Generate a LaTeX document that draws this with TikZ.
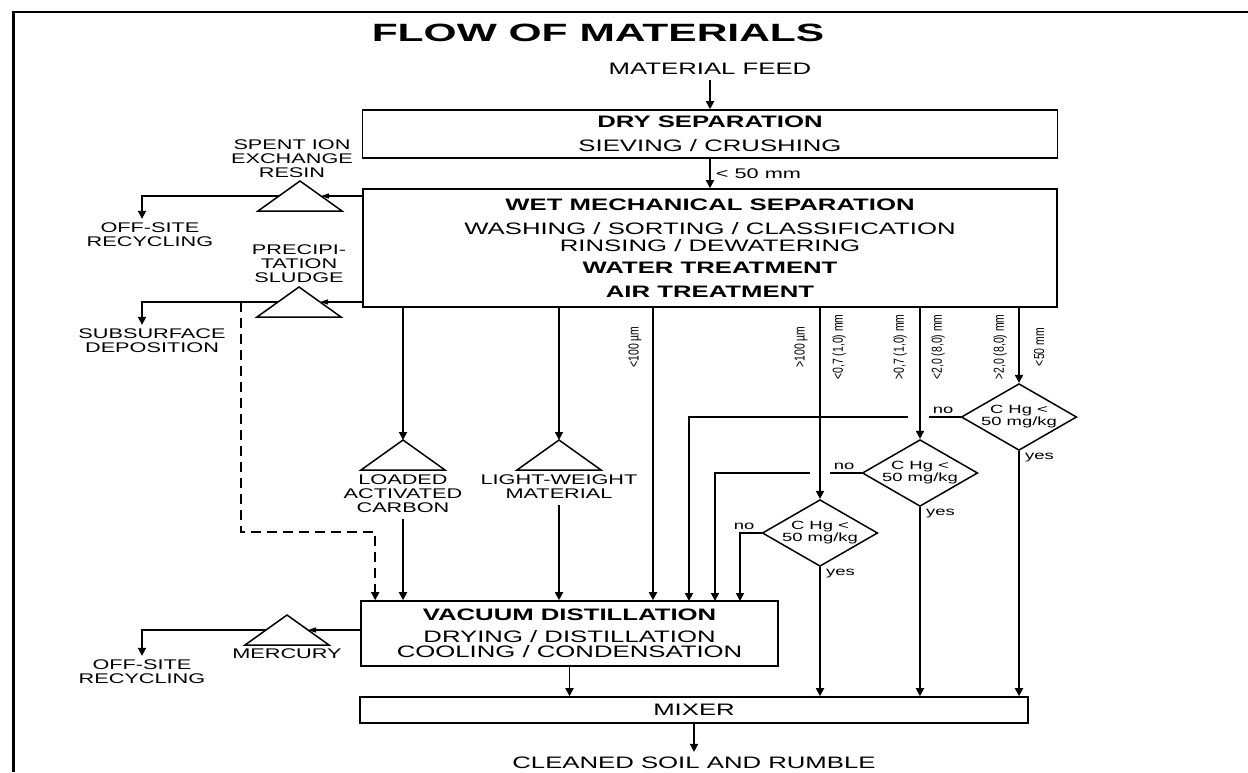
\documentclass[tikz,border=0pt]{standalone}
\usepackage{fontspec}
\setmainfont{Liberation Sans}[FakeStretch=1.55]
\newfontfamily\titlefont{Liberation Sans}[FakeStretch=1.7]
\newfontfamily\slimfont{Liberation Sans}[FakeStretch=0.72]
\usetikzlibrary{positioning, arrows.meta, calc, shapes.geometric}

\begin{document}
\begin{tikzpicture}[
    x=1pt, y=-1pt,
    font=\fontsize{16.6}{17}\selectfont,
    box/.style={draw, line width=1.6pt, align=center, inner sep=0pt},
    side/.style={font=\fontsize{14}{14}\selectfont, align=center, inner sep=0pt},
    small/.style={font=\fontsize{11.9}{11}\selectfont, inner sep=0pt},
    size/.style={font=\slimfont\fontsize{14.5}{14}\selectfont, rotate=90, inner sep=0pt},
    test/.style={draw, diamond, line width=1.5pt, aspect=1.73, inner sep=0pt,
                 minimum width=114pt, minimum height=66pt, align=center,
                 font=\fontsize{11.9}{11}\selectfont},
    tri/.style={line width=1.5pt, line join=miter},
    arr/.style={-{Triangle[length=8pt, width=8pt]}, line width=1.8pt},
    arrs/.style={-{Triangle[length=8pt, width=5pt]}, line width=1.5pt},
  ]
  \useasboundingbox (0,0) rectangle (1248,772);
  \draw[line width=3pt] (13,772) -- (13,12);
  \draw[line width=1.8pt] (12,12) -- (1248,12);

  \node[font=\titlefont\bfseries\fontsize{25}{26}\selectfont] (title) at (598,33) {FLOW OF MATERIALS};
  \node[inner sep=5pt] (feed) at (710,69) {MATERIAL FEED};
  \node[box, minimum width=695pt, minimum height=48pt] (dry) at (710,134)
    {\textbf{DRY SEPARATION}\\[7pt]SIEVING / CRUSHING};
  \node[box, minimum width=694pt, minimum height=118pt] (wet) at (710,248)
    {\textbf{WET MECHANICAL SEPARATION}\\[7pt]WASHING / SORTING / CLASSIFICATION\\RINSING / DEWATERING\\[5pt]\textbf{WATER TREATMENT}\\[7pt]\textbf{AIR TREATMENT}};
  \node[box, minimum width=417pt, minimum height=65pt] (vac) at (569.5,633.5)
    {\textbf{VACUUM DISTILLATION}\\[5pt]DRYING / DISTILLATION\\[-2pt]COOLING / CONDENSATION};
  \node[box, minimum width=668pt, minimum height=26pt] (mix) at (694,710) {MIXER};
  \node[inner sep=5pt] (clean) at (694,763) {CLEANED SOIL AND RUMBLE};

  \draw[arr] (feed) -- (dry);
  \draw[arr] (dry) -- node[side, right=5pt] (cut) {< 50 mm} (wet);

  \foreach \t/\x/\y in {spent/300/181, precip/299/287, loaded/403/440, light/559/440, merc/287/615}{
    \coordinate (\t) at (\x,\y);
    \coordinate (\t-l) at (\x-21,\y+15);
    \coordinate (\t-r) at (\x+21,\y+15);
    \coordinate (\t-b) at (\x,\y+30);
    \draw[tri] (\t) -- ++(-42,30) -- ++(84,0) -- cycle;
  }
  \node[side, above=3pt of spent, xshift=-8pt] (resin) {SPENT ION\\EXCHANGE\\RESIN};
  \node[side, above=4pt of precip] (sludge) {PRECIPI-\\TATION\\SLUDGE};
  \node[side, below=5pt of loaded-b] (carbon) {LOADED\\ACTIVATED\\CARBON};
  \node[side, below=5pt of light-b] (lwm) {LIGHT-WEIGHT\\MATERIAL};
  \node[side, below=4pt of merc-b] (hg) {MERCURY};
  \node[side, inner sep=4pt] (off1) at (150,235) {OFF-SITE\\RECYCLING};
  \node[side, inner sep=4pt] (subs) at (152,341) {SUBSURFACE\\DEPOSITION};
  \node[side, inner sep=4pt] (off2) at (142,672) {OFF-SITE\\RECYCLING};

  \draw[arrs] (wet.west |- spent-r) -- (spent-r);
  \draw[arr] (spent-l) -| ([xshift=-8pt]off1.north);
  \draw[arrs] (wet.west |- precip-r) -- (precip-r);
  \draw[arr] (precip-l) -| ([xshift=-10pt]subs.north);
  \draw[arrs] (vac.west |- merc-r) -- (merc-r);
  \draw[arr] (merc-l) -| (off2.north);

  \coordinate (split) at (241,302);
  \coordinate (bend) at (241,532);
  \draw[arr, dash pattern=on 10pt off 6pt] (split) -- (bend) -| ([xshift=15pt]vac.north west);

  \foreach \n/\x in {o1/403, o2/559, o3/653, o4/820, o5/920, o6/1019}
    \coordinate (\n) at (\x,307);
  \foreach \n/\x in {i4/689, i5/715, i6/740}
    \coordinate (\n) at (\x,601);

  \draw[arr] (o1) -- (loaded);
  \draw[arr] (o2) -- (light);
  \draw[arr, shorten <=6pt] (carbon.south) -- (carbon.south |- vac.north);
  \draw[arr, shorten <=6pt] (lwm.south) -- (lwm.south |- vac.north);
  \draw[arr] (o3) -- (o3 |- vac.north);

  \node[size] (s1) at (635,347) {<100 µm};
  \node[size] (s2) at (801,347) {>100 µm};
  \node[size] (s3) at (839,347) {<0,7 (1,0) mm};
  \node[size] (s4) at (900,347) {>0,7 (1,0) mm};
  \node[size] (s5) at (938,347) {<2,0 (8,0) mm};
  \node[size] (s6) at (1000,347) {>2,0 (8,0) mm};
  \node[size] (s7) at (1039,347) {<50 mm};

  \node[test] (d1) at (1019,417) {C Hg <\\50 mg/kg};
  \node[test] (d2) at (920,473) {C Hg <\\50 mg/kg};
  \node[test] (d3) at (820,533) {C Hg <\\50 mg/kg};
  \draw[arr] (o6) -- (d1);
  \draw[arr] (o5) -- (d2);
  \draw[arr] (o4) -- (d3);
  \foreach \d in {d1, d2, d3}{
    \draw[arr] (\d.south) -- (\d.south |- mix.north);
    \node[small, above left=3pt and 7pt of \d.west] (\d-no) {no};
    \node[small, below right=2pt and 6pt of \d.south] (\d-yes) {yes};
  }
  \draw[arr] (d1.west) -- ($(d1.west -| o5)+(9,0)$) ($(d1.west -| o5)+(-12,0)$) -| (i4);
  \draw[arr] (d2.west) -- ($(d2.west -| o4)+(10,0)$) ($(d2.west -| o4)+(-10,0)$) -| (i5);
  \draw[arr] (d3.west) -| (i6);

  \draw[arr] (vac) -- (vac |- mix.north);
  \draw[arr] (mix) -- (clean);
\end{tikzpicture}
\end{document}
